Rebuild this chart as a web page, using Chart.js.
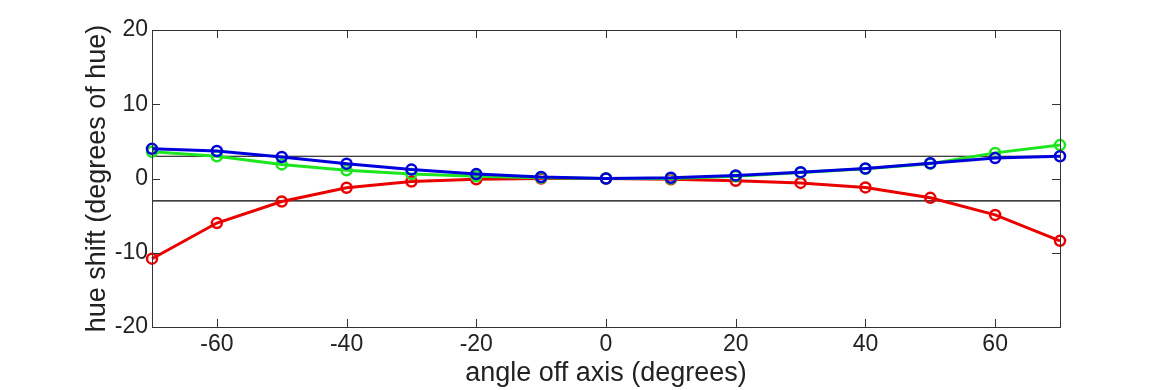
<!DOCTYPE html>
<html>
<head>
<meta charset="utf-8">
<script src="https://cdn.jsdelivr.net/npm/chart.js@4.4.0/dist/chart.umd.min.js"></script>
<style>
  html, body { margin: 0; padding: 0; background: #fff; }
  #wrap { width: 1170px; height: 390px; }
</style>
</head>
<body>
<div id="wrap"><canvas id="hueChart"></canvas></div>
<script>
// Datos
const angulos = [-70, -60, -50, -40, -30, -20, -10, 0, 10, 20, 30, 40, 50, 60, 70];
const rojo  = [-10.8, -6.0, -3.1, -1.25, -0.4, -0.1, 0.0, 0.0, -0.1, -0.3, -0.6, -1.2, -2.6, -4.9, -8.4];
const verde = [3.6, 3.0, 1.9, 1.1, 0.6, 0.3, 0.1, 0.0, 0.0, 0.3, 0.8, 1.3, 2.0, 3.45, 4.5];
const azul  = [4.0, 3.7, 2.9, 2.0, 1.2, 0.6, 0.2, 0.0, 0.1, 0.4, 0.85, 1.35, 2.05, 2.75, 3.0];
const limite = 3; // líneas de tolerancia en +3 y -3

const xTicks = [-60, -40, -20, 0, 20, 40, 60];
const yTicks = [-20, -10, 0, 10, 20];

const puntos = (valores) => angulos.map((a, i) => ({ x: a, y: valores[i] }));

function serie(label, valores, color) {
    return {
        label: label,
        data: puntos(valores),
        borderColor: color,
        borderWidth: 3,
        pointRadius: 5,
        pointBorderWidth: 2.5,
        pointBorderColor: color,
        pointBackgroundColor: 'rgba(255,255,255,0)',
        tension: 0,
        clip: false
    };
}

function lineaLimite(valor) {
    return {
        label: 'limite',
        data: [{ x: angulos[0], y: valor }, { x: angulos[angulos.length - 1], y: valor }],
        borderColor: '#000',
        borderWidth: 1.2,
        pointRadius: 0,
        clip: false
    };
}

// Caja y marcas hacia dentro, estilo MATLAB
const cajaPlugin = {
    id: 'caja',
    afterDatasetsDraw(chart) {
        const { ctx, chartArea: a, scales } = chart;
        const largo = 8;
        ctx.save();
        ctx.strokeStyle = '#333';
        ctx.lineWidth = 1;
        ctx.beginPath();
        for (const t of scales.x.ticks) {
            const px = Math.round(scales.x.getPixelForValue(t.value)) + 0.5;
            ctx.moveTo(px, a.bottom); ctx.lineTo(px, a.bottom - largo);
            ctx.moveTo(px, a.top); ctx.lineTo(px, a.top + largo);
        }
        for (const t of scales.y.ticks) {
            const py = Math.round(scales.y.getPixelForValue(t.value)) + 0.5;
            ctx.moveTo(a.left, py); ctx.lineTo(a.left + largo, py);
            ctx.moveTo(a.right, py); ctx.lineTo(a.right - largo, py);
        }
        ctx.stroke();
        ctx.strokeRect(Math.round(a.left) + 0.5, Math.round(a.top) + 0.5,
            Math.round(a.right - a.left), Math.round(a.bottom - a.top));
        ctx.restore();
    }
};

const fuente = "'Liberation Sans', Arial, Helvetica, sans-serif";

// El primer dataset se dibuja encima: azul, verde, rojo, y las líneas al fondo
new Chart(document.getElementById('hueChart'), {
    type: 'line',
    data: {
        datasets: [
            serie('azul', azul, 'rgb(0,0,220)'),
            serie('verde', verde, 'rgb(30,230,30)'),
            serie('rojo', rojo, 'rgb(235,0,0)'),
            lineaLimite(limite),
            lineaLimite(-limite)
        ]
    },
    options: {
        responsive: true,
        maintainAspectRatio: false,
        animation: false,
        layout: { padding: { top: 30, right: 110, bottom: 0, left: 0 } },
        plugins: {
            legend: { display: false },
            tooltip: { enabled: false }
        },
        scales: {
            x: {
                type: 'linear',
                min: -70,
                max: 70,
                afterBuildTicks: (s) => { s.ticks = xTicks.map(v => ({ value: v })); },
                afterFit: (s) => { s.height = 63; },
                grid: { display: false, drawTicks: false },
                border: { display: false },
                ticks: { color: '#222', padding: 4, maxRotation: 0, font: { family: fuente, size: 23 } },
                title: {
                    display: true,
                    text: 'angle off axis (degrees)',
                    color: '#222',
                    padding: { top: 0, bottom: 0 },
                    font: { family: fuente, size: 27 }
                }
            },
            y: {
                min: -20,
                max: 20,
                afterBuildTicks: (s) => { s.ticks = yTicks.map(v => ({ value: v })); },
                afterFit: (s) => { s.width = 152; },
                grid: { display: false, drawTicks: false },
                border: { display: false },
                ticks: { color: '#222', padding: 4, font: { family: fuente, size: 23 } },
                title: {
                    display: true,
                    text: 'hue shift (degrees of hue)',
                    color: '#222',
                    padding: { top: 81, bottom: 0 },
                    font: { family: fuente, size: 27 }
                }
            }
        }
    },
    plugins: [cajaPlugin]
});
</script>
</body>
</html>
